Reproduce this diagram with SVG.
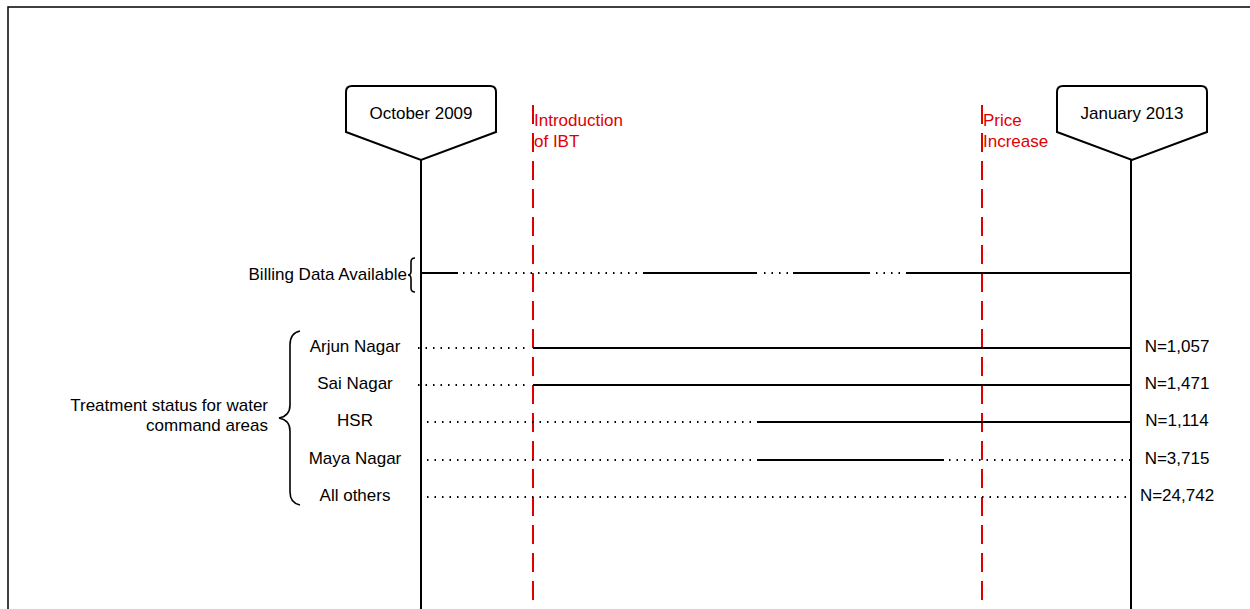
<svg xmlns="http://www.w3.org/2000/svg" width="1250" height="609" viewBox="0 0 1250 609">
<style>
text{font-family:"Liberation Sans",Arial,sans-serif;font-size:17px;fill:#000}
.red{fill:#e00000}
.life{stroke:#000;stroke-width:2;fill:none}
.box{stroke:#000;stroke-width:2;fill:#fff}
.evt{stroke:#e00000;stroke-width:2;stroke-dasharray:19 9;fill:none}
.solid{stroke:#000;stroke-width:2;fill:none}
.dot{stroke:#000;stroke-width:2;stroke-dasharray:1.5 6;fill:none}
.brace{stroke:#000;stroke-width:1.6;fill:none}
</style>
<rect x="8" y="7" width="1300" height="700" fill="none" stroke="#000" stroke-width="1.5"/>
<g id="oct2009">
<line class="life" x1="421" y1="160" x2="421" y2="609"/>
<path class="box" d="M346 92 Q346 86 352 86 L490 86 Q496 86 496 92 L496 132 L421 160 L346 132 Z"/>
<text x="421" y="119" text-anchor="middle">October 2009</text>
</g>
<g id="jan2013">
<line class="life" x1="1131" y1="160" x2="1131" y2="609"/>
<path class="box" d="M1057 92 Q1057 86 1063 86 L1201 86 Q1207 86 1207 92 L1207 132 L1132 160 L1057 132 Z"/>
<text x="1132" y="119" text-anchor="middle">January 2013</text>
</g>
<g id="ibt">
<line class="evt" x1="533" y1="105" x2="533" y2="605"/>
<text class="red" x="534" y="126">Introduction</text>
<text class="red" x="534" y="147">of IBT</text>
</g>
<g id="price">
<line class="evt" x1="982" y1="105" x2="982" y2="605"/>
<text class="red" x="983" y="126">Price</text>
<text class="red" x="983" y="147">Increase</text>
</g>
<g id="billing">
<text x="407" y="280" text-anchor="end">Billing Data Available</text>
<path class="brace" d="M415 258 Q411 258 411 262 L411 271 Q411 275 408 275 Q411 275 411 279 L411 288 Q411 292 415 292"/>
</g>
<g id="treatment">
<text x="268" y="411" text-anchor="end">Treatment status for water</text>
<text x="268" y="431" text-anchor="end">command areas</text>
<path class="brace" d="M300 331 Q290 333 290 345 L290 405 Q290 416 279 418 Q290 420 290 431 L290 492 Q290 503 300 505"/>
</g>
<g id="labels">
<text x="355" y="352" text-anchor="middle">Arjun Nagar</text>
<text x="355" y="389" text-anchor="middle">Sai Nagar</text>
<text x="355" y="426" text-anchor="middle">HSR</text>
<text x="355" y="464" text-anchor="middle">Maya Nagar</text>
<text x="355" y="501" text-anchor="middle">All others</text>
<text x="1177" y="352" text-anchor="middle">N=1,057</text>
<text x="1177" y="389" text-anchor="middle">N=1,471</text>
<text x="1177" y="426" text-anchor="middle">N=1,114</text>
<text x="1177" y="464" text-anchor="middle">N=3,715</text>
<text x="1177" y="501" text-anchor="middle">N=24,742</text>
</g>
<g id="connectors">
<line class="solid" x1="421" y1="273" x2="458" y2="273"/>
<line class="dot" x1="463" y1="273" x2="640" y2="273"/>
<line class="solid" x1="643" y1="273" x2="757" y2="273"/>
<line class="dot" x1="764" y1="273" x2="790" y2="273"/>
<line class="solid" x1="793" y1="273" x2="870" y2="273"/>
<line class="dot" x1="876" y1="273" x2="902" y2="273"/>
<line class="solid" x1="906" y1="273" x2="1131" y2="273"/>
<line class="dot" x1="418" y1="348" x2="530" y2="348"/>
<line class="solid" x1="533" y1="348" x2="1131" y2="348"/>
<line class="dot" x1="418" y1="385" x2="530" y2="385"/>
<line class="solid" x1="533" y1="385" x2="1131" y2="385"/>
<line class="dot" x1="427" y1="422" x2="752" y2="422"/>
<line class="solid" x1="757" y1="422" x2="1131" y2="422"/>
<line class="dot" x1="427" y1="460" x2="752" y2="460"/>
<line class="solid" x1="757" y1="460" x2="944" y2="460"/>
<line class="dot" x1="949" y1="460" x2="1131" y2="460"/>
<line class="dot" x1="427" y1="497" x2="1131" y2="497"/>
</g>
</svg>
